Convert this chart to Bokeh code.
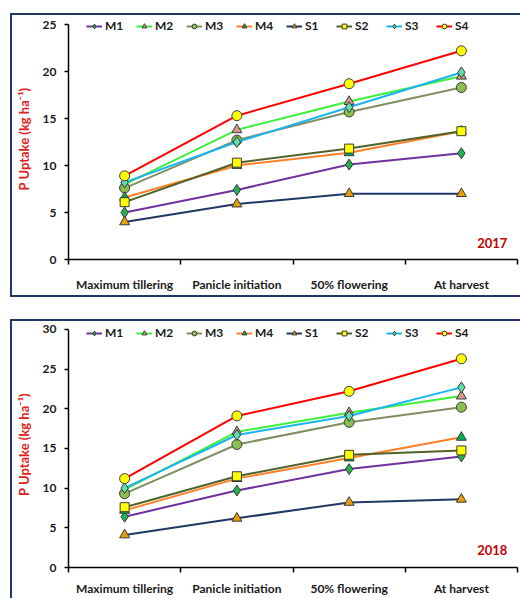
from bokeh.plotting import figure
from bokeh.layouts import column, row
from bokeh.models import Range1d, FixedTicker, Legend, LegendItem, Label, Div
from bokeh.embed import file_html
from bokeh.resources import INLINE

stages = ["Maximum tillering", "Panicle initiation", "50% flowering", "At harvest"]
series = ["M1", "M2", "M3", "M4", "S1", "S2", "S3", "S4"]

# 2017 values (kg/ha)
m1_2017 = [5.0, 7.4, 10.1, 11.3]
m2_2017 = [8.0, 13.8, 16.8, 19.5]
m3_2017 = [7.6, 12.7, 15.7, 18.3]
m4_2017 = [6.6, 10.0, 11.35, 13.65]
s1_2017 = [4.0, 5.9, 7.0, 7.0]
s2_2017 = [6.1, 10.3, 11.8, 13.65]
s3_2017 = [8.2, 12.5, 16.2, 19.9]
s4_2017 = [8.9, 15.3, 18.7, 22.2]

# 2018 values (kg/ha)
m1_2018 = [6.4, 9.7, 12.4, 14.0]
m2_2018 = [9.8, 17.1, 19.5, 21.6]
m3_2018 = [9.3, 15.5, 18.3, 20.2]
m4_2018 = [7.2, 11.2, 13.8, 16.4]
s1_2018 = [4.1, 6.2, 8.2, 8.6]
s2_2018 = [7.6, 11.5, 14.2, 14.75]
s3_2018 = [10.0, 16.7, 19.1, 22.7]
s4_2018 = [11.2, 19.1, 22.2, 26.3]

line_colors = ["#7030A0", "#3CF03C", "#7F8F62", "#FF7F27", "#1F3864", "#4F6228", "#1AB4EE", "#FF0000"]
marker_types = ["diamond", "triangle", "circle", "triangle", "triangle", "square", "diamond", "circle"]
marker_fills = ["#22B14C", "#D9998A", "#8CBE50", "#00B050", "#E3A008", "#FFFF00", "#5CE0A8", "#FFFF00"]
marker_sizes = [11, 10, 10, 10, 10, 9, 11, 10]

FONT = "Lato"
BOX = "#203864"


def make_panel(values, ymax, ytop, year, width, height, mtop, mbottom, leg_off, xstandoff):
    p = figure(width=width, height=height, output_backend="svg", toolbar_location=None,
               x_range=Range1d(0, len(stages)), y_range=Range1d(0, ytop),
               min_border_left=52, min_border_right=3, min_border_top=mtop, min_border_bottom=mbottom)
    p.outline_line_color = None
    p.xgrid.visible = False
    p.ygrid.visible = False
    p.background_fill_color = "white"
    p.border_fill_color = "white"

    xs = [i + 0.5 for i in range(len(stages))]
    items = []
    for name, vals, lc, mt, mf, ms in zip(series, values, line_colors, marker_types, marker_fills, marker_sizes):
        r1 = p.line(xs, vals, line_color=lc, line_width=2)
        r2 = p.scatter(xs, vals, marker=mt, size=ms, fill_color=mf, line_color="#3A3A3A", line_width=1)
        items.append(LegendItem(label=name, renderers=[r1, r2]))

    frame_h = height - mtop - mbottom
    legend = Legend(items=items, orientation="horizontal", location=(18, frame_h - 12 - leg_off),
                    glyph_width=16, glyph_height=12, label_standoff=3, spacing=11,
                    padding=0, margin=0, border_line_color=None, background_fill_alpha=0,
                    label_text_font=FONT, label_text_font_style="bold", label_text_font_size="12px",
                    label_text_color="#1A1A1A", label_height=12)
    p.add_layout(legend, "center")

    # x axis
    xa = p.xaxis[0]
    xa.ticker = FixedTicker(ticks=xs, minor_ticks=list(range(len(stages) + 1)))
    xa.major_label_overrides = {x: s for x, s in zip(xs, stages)}
    xa.major_tick_out = 0
    xa.major_tick_in = 0
    xa.minor_tick_out = 5
    xa.minor_tick_in = 0
    xa.minor_tick_line_width = 1.5
    xa.axis_line_width = 1.5
    xa.axis_line_color = "black"
    xa.major_label_standoff = xstandoff
    xa.major_label_text_font = FONT
    xa.major_label_text_font_style = "bold"
    xa.major_label_text_font_size = "12px"
    xa.major_label_text_color = "#1A1A1A"

    # y axis
    ya = p.yaxis[0]
    ya.ticker = FixedTicker(ticks=list(range(0, ymax + 1, 5)))
    ya.bounds = (0, ymax)
    ya.major_tick_out = 4
    ya.major_tick_in = 0
    ya.minor_tick_out = 0
    ya.minor_tick_in = 0
    ya.major_tick_line_width = 1.5
    ya.axis_line_width = 1.5
    ya.axis_line_color = "black"
    ya.major_label_standoff = 8
    ya.major_label_text_font = FONT
    ya.major_label_text_font_style = "bold"
    ya.major_label_text_font_size = "12px"
    ya.major_label_text_color = "#1A1A1A"
    ya.axis_label = "P Uptake (kg ha\u207b\u00b9)"
    ya.axis_label_text_font = FONT
    ya.axis_label_text_font_style = "bold"
    ya.axis_label_text_font_size = "13px"
    ya.axis_label_text_color = "#E02020"
    ya.axis_label_standoff = 8

    lab = Label(x=3.91, y=ymax * 0.072, text=year, text_align="right", text_baseline="middle",
                text_font=FONT, text_font_style="bold", text_font_size="13px", text_color="#C00000")
    p.add_layout(lab)
    return p


def block(w, h, color=None):
    styles = {"background-color": color} if color else {}
    return Div(width=w, height=h, margin=0, styles=styles)


vals17 = [m1_2017, m2_2017, m3_2017, m4_2017, s1_2017, s2_2017, s3_2017, s4_2017]
vals18 = [m1_2018, m2_2018, m3_2018, m4_2018, s1_2018, s2_2018, s3_2018, s4_2018]

# top panel: content y 15..295, frame 18..259 (25 at 24)
p1 = make_panel(vals17, 25, 25.64, "2017", 508, 280, 3, 36, 3, 12)
# bottom panel: content y 321..598, frame 321..567 (30 at 329)
p2 = make_panel(vals18, 30, 31.0, "2018", 508, 277, 0, 31, 7, 8)

box1 = column(block(510, 2, BOX), row(block(2, 280, BOX), p1), block(510, 2, BOX))
box2 = column(block(510, 2, BOX), row(block(2, 277, BOX), p2))

layout = column(block(2, 13),
                row(block(10, 2), box1),
                block(2, 22),
                row(block(10, 2), box2))

open("out.html", "w").write(file_html(layout, INLINE))
